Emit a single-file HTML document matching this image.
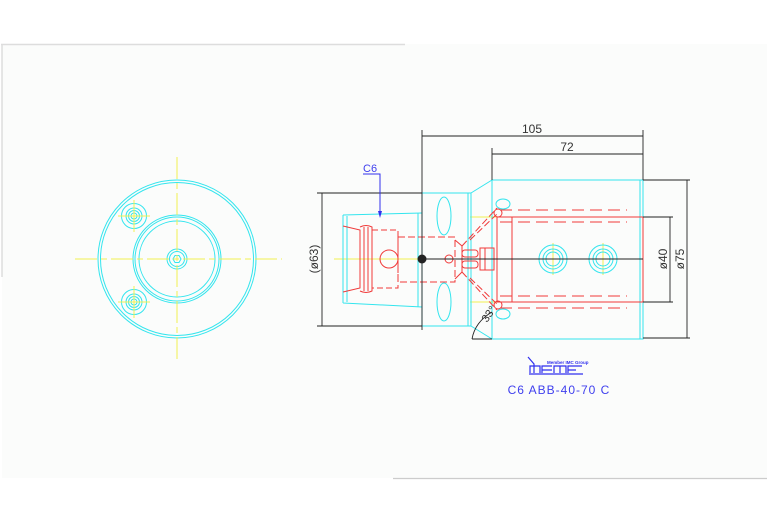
<!DOCTYPE html>
<html><head><meta charset="utf-8"><style>
html,body{margin:0;padding:0;background:#fff;}
svg{display:block;font-family:"Liberation Sans",sans-serif;}
</style></head><body>
<svg width="767" height="523" viewBox="0 0 767 523" xmlns="http://www.w3.org/2000/svg">
<rect x="2" y="44" width="765" height="434" fill="#fbfcfb"/>
<line x1="1" y1="44.5" x2="405" y2="44.5" stroke="#ddd" stroke-width="1.5"/>
<line x1="2" y1="44" x2="2" y2="277" stroke="#ddd" stroke-width="1.5"/>
<line x1="393" y1="478.5" x2="767" y2="478.5" stroke="#ccc" stroke-width="1.2"/>

<!-- LEFT VIEW -->
<g fill="none" stroke="#33e5ee" stroke-width="1">
<circle cx="177" cy="259" r="79"/><circle cx="177" cy="259" r="76.5"/>
<circle cx="177" cy="259" r="44"/><circle cx="177" cy="259" r="42"/><circle cx="177" cy="259" r="38"/>
<circle cx="177" cy="259" r="10"/><circle cx="177" cy="259" r="7.5"/>
<polygon points="173,259 175,255.5 179,255.5 181,259 179,262.5 175,262.5"/>
<circle cx="134" cy="216" r="12.5"/><circle cx="134" cy="216" r="8"/><circle cx="134" cy="216" r="5.5"/><circle cx="134" cy="216" r="3"/>
<circle cx="134" cy="302" r="12.5"/><circle cx="134" cy="302" r="8"/><circle cx="134" cy="302" r="5.5"/><circle cx="134" cy="302" r="3"/>
</g>
<g stroke="#f2f050" stroke-width="1" stroke-dasharray="22,4,6,4">
<line x1="75" y1="259" x2="282" y2="259"/><line x1="177" y1="157" x2="177" y2="362"/>
</g>
<g stroke="#f2f050" stroke-width="1">
<line x1="118" y1="216" x2="150" y2="216"/><line x1="134" y1="200" x2="134" y2="232"/>
<line x1="118" y1="302" x2="150" y2="302"/><line x1="134" y1="286" x2="134" y2="318"/>
</g>

<!-- RIGHT VIEW -->
<g stroke="#f2f050" stroke-width="1">
<line x1="334" y1="259" x2="420" y2="259"/>
<line x1="470" y1="217" x2="643" y2="217"/><line x1="470" y1="302" x2="643" y2="302"/>
<line x1="553" y1="243" x2="553" y2="275"/><line x1="603" y1="243" x2="603" y2="275"/>
</g>
<g fill="none" stroke="#33e5ee" stroke-width="1">
<path d="M492,180 H643 V339 H492 Z"/><line x1="640" y1="180" x2="640" y2="339"/>
<path d="M471,193 L492,180"/><path d="M471,326 L492,339"/>
<rect x="422" y="193" width="49" height="133"/><line x1="468" y1="193" x2="468" y2="326"/>
<path d="M343,215 L422,213 M343,303 L422,307 M343,215 V303 M347,216 V302 M418,213 V307"/>
<ellipse cx="444" cy="216" rx="7" ry="19"/><ellipse cx="444" cy="302" rx="7" ry="19"/>
<circle cx="553" cy="259" r="14"/><circle cx="553" cy="259" r="10"/><circle cx="553" cy="259" r="7"/>
<circle cx="603" cy="259" r="14"/><circle cx="603" cy="259" r="10"/><circle cx="603" cy="259" r="7"/>
<ellipse cx="503" cy="204" rx="7" ry="5"/><ellipse cx="503" cy="314" rx="7" ry="5"/>
</g>
<g fill="none" stroke="#f03a3a" stroke-width="1">
<path d="M343,226 L360,230 V288 L343,292"/>
<path d="M360,227 Q366,224 372,227 V291 Q366,294 360,291"/>
<line x1="364" y1="227" x2="364" y2="291"/><line x1="368" y1="227" x2="368" y2="291"/>
<path d="M372,230 H398 V288 H372" stroke-dasharray="6,3"/>
<circle cx="389" cy="259" r="9"/>
<path d="M398,237 H455 V282 H398 Z" stroke-dasharray="7,3"/>
<path d="M455,240 L462,246 V272 L455,279"/>
<circle cx="449" cy="259" r="4"/>
<rect x="462" y="250" width="16" height="7" rx="3"/><rect x="462" y="261" width="16" height="7" rx="3"/>
<rect x="480" y="248" width="14" height="22"/><line x1="485" y1="248" x2="485" y2="270"/>
<path d="M462,246 L497,208 M462,272 L497,310" stroke-dasharray="7,3"/>
<path d="M470,240 L497,214 M470,278 L497,304" stroke-dasharray="7,3"/>
<rect x="497" y="217" width="146" height="85"/><line x1="512" y1="217" x2="512" y2="302"/>
<path d="M500,210 H627 M500,222 H627 M500,296 H627 M500,308 H627" stroke-dasharray="12,6"/>
<circle cx="498" cy="213" r="4"/><circle cx="498" cy="305" r="4"/>
</g>
<g fill="none" stroke="#222" stroke-width="0.9">
<line x1="420" y1="259" x2="643" y2="259"/>
<line x1="422" y1="130" x2="422" y2="330"/>
<line x1="492" y1="148" x2="492" y2="180"/>
<line x1="643" y1="130" x2="643" y2="180"/>
<line x1="422" y1="136" x2="643" y2="136"/>
<line x1="492" y1="154" x2="643" y2="154"/>
<line x1="317" y1="193" x2="422" y2="193"/><line x1="317" y1="326" x2="422" y2="326"/>
<line x1="322" y1="193" x2="322" y2="326"/>
<line x1="643" y1="180" x2="690" y2="180"/><line x1="643" y1="338" x2="690" y2="338"/>
<line x1="687" y1="180" x2="687" y2="338"/>
<line x1="643" y1="217" x2="673" y2="217"/><line x1="643" y1="302" x2="673" y2="302"/>
<line x1="670" y1="217" x2="670" y2="302"/>
<path d="M472,339 H492 M472,339 Q475,322 492,312"/>
</g>
<circle cx="422" cy="259" r="4.5" fill="#222"/>
<g font-size="12" fill="#333">
<text x="532" y="133" text-anchor="middle">105</text>
<text x="567" y="151" text-anchor="middle">72</text>
<text transform="translate(318,259) rotate(-90)" text-anchor="middle">(ø63)</text>
<text transform="translate(667,259) rotate(-90)" text-anchor="middle">ø40</text>
<text transform="translate(684,259) rotate(-90)" text-anchor="middle">ø75</text>
<text transform="translate(487,323) rotate(-55)" font-size="11">33°</text>
</g>
<text x="363" y="172" font-size="11" fill="#4040ee">C6</text>
<path d="M363,174 H380 V216" fill="none" stroke="#3030ee" stroke-width="1"/>
<path d="M378,211 L380,218 L382,211 Z" fill="#3030ee"/>
<!-- logo -->
<g fill="none" stroke="#3030ee" stroke-width="1.2">
<path d="M528,357 L534,364 V373"/>
<path d="M530,373 V366 H540 V373 M542,373 V366 H552 M542,370 H552 M554,373 V366 H566 V373 M560,366 V373 M568,373 V366 H582 M568,370 H576"/>
<line x1="529" y1="374" x2="583" y2="374"/>
</g>
<text x="547" y="364" font-size="4.5" fill="#3030ee" font-weight="bold">Member IMC Group</text>
<text x="559" y="394" font-size="12" fill="#4040ee" text-anchor="middle" letter-spacing="1">C6 ABB-40-70 C</text>
</svg>
</body></html>
